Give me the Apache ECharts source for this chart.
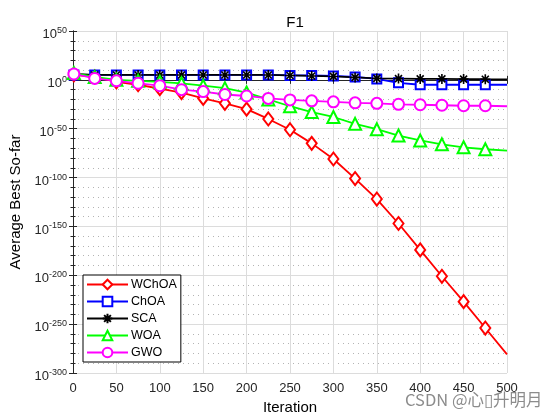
<!DOCTYPE html>
<html>
<head>
<meta charset="utf-8">
<script src="https://cdn.jsdelivr.net/npm/echarts@6/dist/echarts.min.js"></script>
<style>html,body{margin:0;padding:0;background:#fff}#c{width:560px;height:420px}</style>
</head>
<body>
<div id="c"></div>
<script>
// Iterations at which values were read (markers every 25 iterations)
const iterations = [1, 25, 50, 75, 100, 125, 150, 175, 200, 225, 250, 275, 300, 325, 350, 375, 400, 425, 450, 475, 500];
// log10 of Average Best So-far for each algorithm
const wchoaLog = [5, 3, -2, -5, -9, -13, -19, -24, -30, -40, -51, -65, -81, -101, -122, -147, -174, -201, -227, -254, -281];
const choaLog  = [5, 5, 5, 5, 5, 5, 5, 5, 5, 5, 4.5, 4.5, 4, 3, 1, -3, -5, -5, -5, -5, -5];
const scaLog   = [6, 5, 5, 5, 5, 5, 5, 5, 5, 5, 4.5, 4, 3.5, 2.5, 1.5, 1.3, 1, 1, 0.8, 0.6, 0.5];
const woaLog   = [7, 3, 0, -1, -2, -3.5, -6, -8.5, -13, -20, -27, -33, -38, -45, -50.5, -57, -62, -66, -69, -71, -72.5];
const gwoLog   = [6, 1.5, -1, -3.5, -6, -10, -12, -15, -16.5, -19, -20.5, -21.5, -22.5, -23.5, -24, -25, -25.5, -26, -26.5, -26.5, -27];
const seriesNames = ['WChOA', 'ChOA', 'SCA', 'WOA', 'GWO'];
const xTicks = [0, 50, 100, 150, 200, 250, 300, 350, 400, 450, 500];
const yTickExponents = [50, 0, -50, -100, -150, -200, -250, -300];

const FONT = '"Liberation Sans", Arial, Helvetica, sans-serif';
const chart = echarts.init(document.getElementById('c'), null, {renderer: 'canvas'});

function pts(arr) {
  return iterations.map((it, i) => {
    const d = {value: [it, arr[i]]};
    if (i === iterations.length - 1) d.symbol = 'none';
    return d;
  });
}
const asterisk = 'path://M5,0L5,10M0,5L10,5M1.5,1.5L8.5,8.5M1.5,8.5L8.5,1.5';
const styles = [
  {data: wchoaLog, color: '#ff0000', symbol: 'emptyDiamond', size: [10, 13]},
  {data: choaLog,  color: '#0000ff', symbol: 'emptyRect', size: 9},
  {data: scaLog,   color: '#000000', symbol: asterisk, size: 10},
  {data: woaLog,   color: '#00ff00', symbol: 'emptyTriangle', size: 12},
  {data: gwoLog,   color: '#ff00ff', symbol: 'emptyCircle', size: 11}
];
const series = styles.map((s, k) => ({
  name: seriesNames[k],
  type: 'line',
  data: pts(s.data),
  symbol: s.symbol,
  symbolSize: s.size,
  showAllSymbol: true,
  animation: false,
  lineStyle: {color: s.color, width: 1.8},
  itemStyle: {color: s.color, borderColor: s.color, borderWidth: 1.6},
  emphasis: {disabled: true}
}));

const axisLabelStyle = {color: '#262626', fontFamily: FONT, fontSize: 13};
chart.setOption({
  backgroundColor: '#fff',
  animation: false,
  title: {
    text: 'F1', left: 290, top: 10, textAlign: 'center',
    textStyle: {fontFamily: FONT, fontSize: 15, fontWeight: 'normal', color: '#000'}
  },
  grid: {left: 73, right: 53, top: 31, bottom: 47, containLabel: false},
  legend: {
    left: 83, bottom: 58, orient: 'vertical',
    backgroundColor: '#fff', borderColor: '#000', borderWidth: 1,
    padding: [3, 4, 3, 3], itemGap: 4, itemWidth: 41, itemHeight: 12,
    textStyle: {fontFamily: FONT, fontSize: 12.5, lineHeight: 12, color: '#000', padding: [0, 0, 0, -2]},
    data: seriesNames
  },
  xAxis: [{
    type: 'value', min: 0, max: 500, interval: 50, position: 'bottom',
    name: 'Iteration', nameLocation: 'middle', nameGap: 27,
    nameTextStyle: {fontFamily: FONT, fontSize: 15, color: '#000'},
    axisLine: {show: true, lineStyle: {color: '#262626', width: 1}},
    axisTick: {show: true, inside: true, length: 4, lineStyle: {color: '#262626'}},
    axisLabel: Object.assign({margin: 9, formatter: v => xTicks.includes(v) ? String(v) : ''}, axisLabelStyle),
    splitLine: {show: true, lineStyle: {color: '#dcdcdc', width: 1}}
  }, {
    type: 'value', min: 0, max: 500, interval: 50, position: 'top',
    axisLine: {show: true, lineStyle: {color: '#262626', width: 1}},
    axisTick: {show: true, inside: true, length: 4, lineStyle: {color: '#262626'}},
    axisLabel: {show: false}, splitLine: {show: false}
  }],
  yAxis: [{
    type: 'value', min: -300, max: 50, interval: 50, position: 'left',
    name: 'Average Best So-far', nameLocation: 'middle', nameGap: 43,
    nameTextStyle: {fontFamily: FONT, fontSize: 15, color: '#000'},
    axisLine: {show: true, lineStyle: {color: '#262626', width: 1}},
    axisTick: {show: true, inside: true, length: 4, lineStyle: {color: '#262626'}},
    minorTick: {show: true, splitNumber: 5, length: 2.5, lineStyle: {color: '#262626'}},
    axisLabel: {
      margin: 6,
      padding: [5, 0, 0, 0],
      formatter: v => yTickExponents.includes(v) ? '{b|10}{s|' + v + '}' : '',
      rich: {
        b: {fontFamily: FONT, fontSize: 13, color: '#262626', lineHeight: 15, verticalAlign: 'bottom'},
        s: {fontFamily: FONT, fontSize: 9, color: '#262626', lineHeight: 15, verticalAlign: 'top'}
      }
    },
    splitLine: {show: true, lineStyle: {color: '#dcdcdc', width: 1}},
    minorSplitLine: {show: true, lineStyle: {color: '#b4b4b4', width: 1, type: [1, 4]}}
  }, {
    type: 'value', min: -300, max: 50, interval: 50, position: 'right',
    axisLine: {show: true, lineStyle: {color: '#262626', width: 1}},
    axisTick: {show: true, inside: true, length: 4, lineStyle: {color: '#262626'}},
    minorTick: {show: true, splitNumber: 5, length: 2.5, lineStyle: {color: '#262626'}},
    axisLabel: {show: false}, splitLine: {show: false}
  }],
  series: series,
  graphic: [{
    type: 'text', left: 405, top: 391, silent: true,
    style: {text: 'CSDN @心▯升明月', fill: '#8c8c8c', font: '16.5px "Noto Sans CJK SC", ' + FONT}
  }]
});
</script>
</body>
</html>
